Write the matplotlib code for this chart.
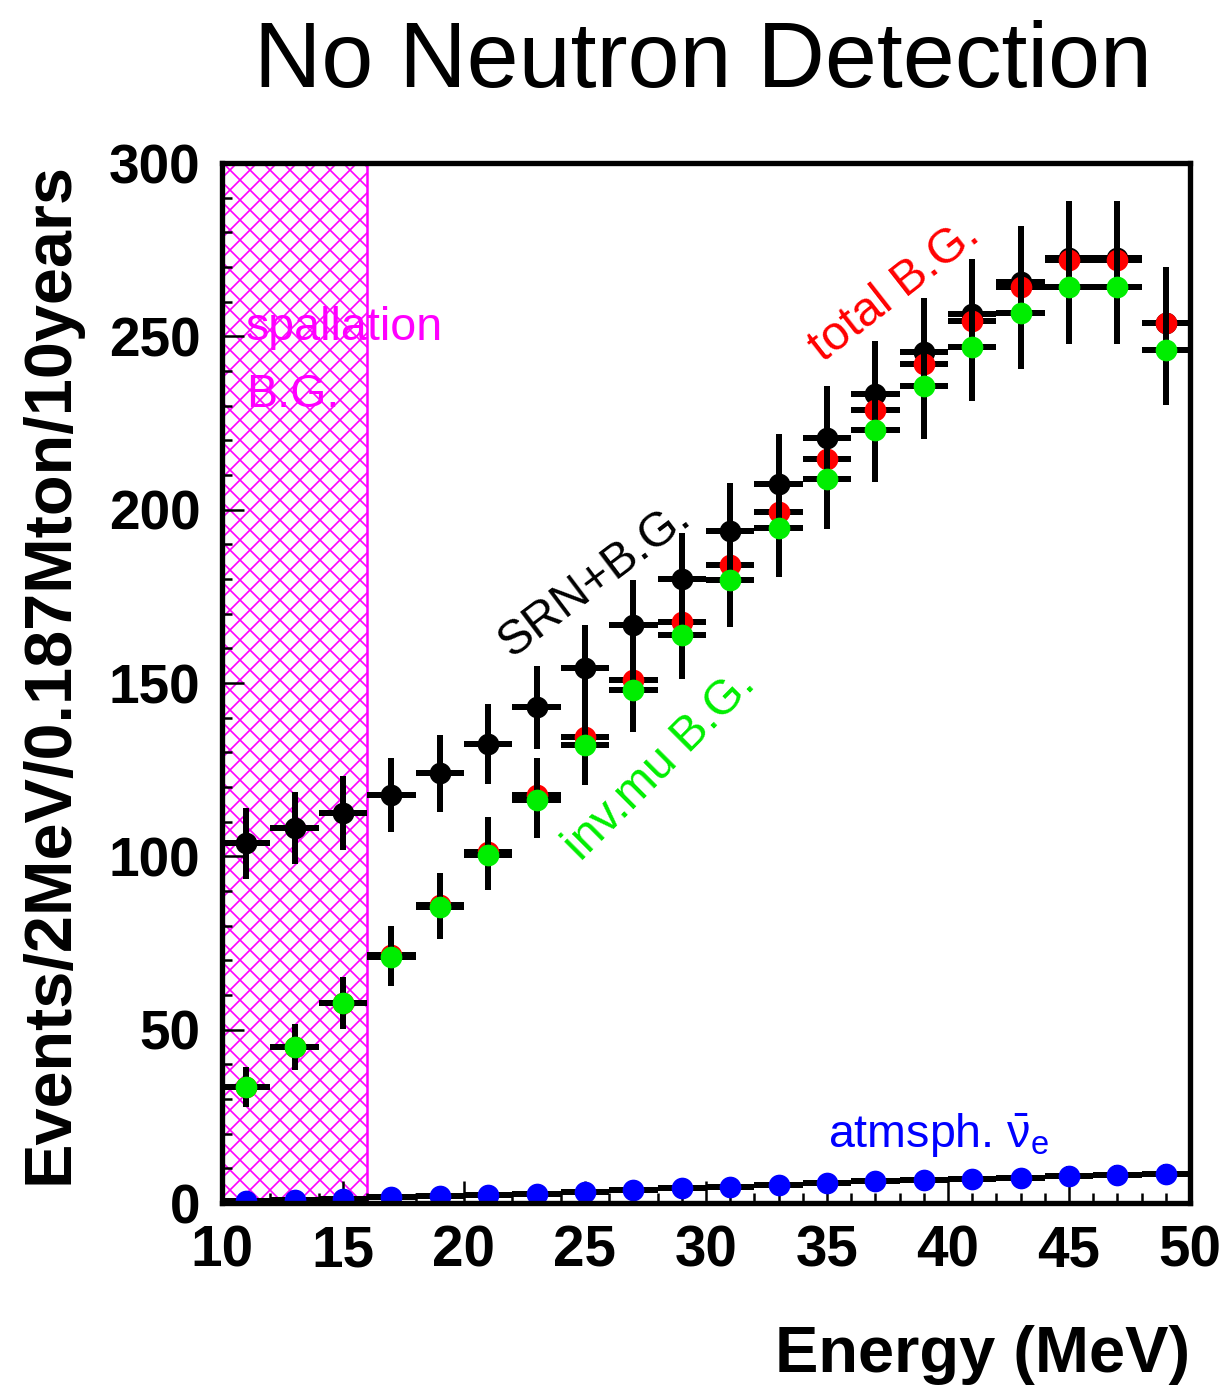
import matplotlib
matplotlib.use("Agg")
import matplotlib.pyplot as plt
from matplotlib.ticker import MultipleLocator
import numpy as np

plt.rcParams['font.family'] = ['Liberation Sans', 'DejaVu Sans']
plt.rcParams['mathtext.fontset'] = 'custom'
plt.rcParams['mathtext.rm'] = 'Liberation Sans'
plt.rcParams['mathtext.it'] = 'Liberation Sans'
plt.rcParams['hatch.linewidth'] = 1.0

# ---- data ----
energy = [11, 13, 15, 17, 19, 21, 23, 25, 27, 29, 31, 33, 35, 37, 39, 41, 43, 45, 47, 49]
srn_bg = [103.8, 108.2, 112.5, 117.7, 124.0, 132.4, 143.0, 154.3, 166.7, 180.0,
          193.8, 207.4, 220.7, 233.3, 245.5, 256.4, 265.6, 272.6, 272.6, 254.0]
srn_bg_err = [10.2, 10.4, 10.6, 10.8, 11.1, 11.5, 12.0, 12.4, 12.9, 13.4,
              13.9, 14.4, 14.9, 15.3, 15.7, 16.0, 16.3, 16.5, 16.5, 15.9]
total_bg = [33.5, 45.0, 57.7, 71.5, 86.0, 101.2, 117.7, 134.4, 150.8, 167.6,
            184.0, 199.3, 214.6, 228.7, 242.0, 254.4, 264.2, 272.0, 272.0, 253.8]
total_bg_err = [5.8, 6.7, 7.6, 8.5, 9.3, 10.1, 10.8, 11.6, 12.3, 12.9,
                13.6, 14.1, 14.6, 15.1, 15.6, 15.9, 16.3, 16.5, 16.5, 15.9]
invmu_bg = [33.5, 45.0, 57.7, 71.0, 85.4, 100.4, 116.2, 132.0, 148.0, 164.0,
            179.7, 194.7, 209.0, 223.0, 235.6, 247.0, 256.7, 264.2, 264.2, 246.0]
invmu_bg_err = [5.8, 6.7, 7.6, 8.4, 9.2, 10.0, 10.8, 11.5, 12.2, 12.8,
                13.4, 14.0, 14.5, 14.9, 15.3, 15.7, 16.0, 16.3, 16.3, 15.7]
atm_nue = [0.5, 0.9, 1.2, 1.7, 2.0, 2.3, 2.6, 3.2, 3.7, 4.3,
           4.6, 5.2, 5.8, 6.3, 6.6, 6.9, 7.2, 7.8, 8.1, 8.4]
atm_nue_err = [0.7, 0.9, 1.1, 1.3, 1.4, 1.5, 1.6, 1.8, 1.9, 2.1,
               2.1, 2.3, 2.4, 2.5, 2.6, 2.6, 2.7, 2.8, 2.8, 2.9]
bin_half_width = [1.0] * 20
spallation_range = (10, 16)

DPI = 120
fig = plt.figure(figsize=(1229 / DPI, 1389 / DPI), dpi=DPI)
ax = fig.add_axes([0.1806, 0.1339, 0.7877, 0.7487])

# spallation hatched region
ax.axvspan(spallation_range[0], spallation_range[1], facecolor='none',
           edgecolor='#ff00ff', hatch='xx', linewidth=1.5, zorder=1)

ms = 12
elw = 3.6
ax.errorbar(energy, atm_nue, yerr=atm_nue_err, xerr=bin_half_width, fmt='o',
            color='#0000ff', ecolor='black', elinewidth=elw, markersize=ms,
            capsize=0, zorder=3)
ax.errorbar(energy, srn_bg, yerr=srn_bg_err, xerr=bin_half_width, fmt='o',
            color='black', ecolor='black', elinewidth=elw, markersize=ms,
            capsize=0, zorder=3)
ax.errorbar(energy, total_bg, yerr=total_bg_err, xerr=bin_half_width, fmt='o',
            color='#ff0000', ecolor='black', elinewidth=elw, markersize=ms,
            capsize=0, zorder=4)
ax.errorbar(energy, invmu_bg, yerr=invmu_bg_err, xerr=bin_half_width, fmt='o',
            color='#00ee00', ecolor='black', elinewidth=elw, markersize=ms,
            capsize=0, zorder=5)

ax.set_xlim(10, 50)
ax.set_ylim(0, 300)
ax.xaxis.set_major_locator(MultipleLocator(5))
ax.xaxis.set_minor_locator(MultipleLocator(1))
ax.yaxis.set_major_locator(MultipleLocator(50))
ax.yaxis.set_minor_locator(MultipleLocator(10))
ax.tick_params(which='both', direction='in', top=False, right=False, width=1.5)
ax.tick_params(which='major', length=13, pad=13)
ax.tick_params(which='minor', length=6)
for lab in ax.get_xticklabels() + ax.get_yticklabels():
    lab.set_fontsize(33)
    lab.set_fontweight('bold')
for lab in ax.get_xticklabels():
    lab.set_fontsize(34)
for sp in ax.spines.values():
    sp.set_linewidth(3.2)
    sp.set_zorder(6)

ax.set_ylabel('Events/2MeV/0.187Mton/10years', fontsize=40, fontweight='bold')
ax.yaxis.set_label_coords(-0.145, 0.51)
ax.set_xlabel('Energy (MeV)', fontsize=39, fontweight='bold')
ax.xaxis.set_label_coords(1.0, -0.117)
ax.xaxis.label.set_horizontalalignment('right')

fig.text(0.572, 0.955, 'No Neutron Detection', fontsize=56, ha='center', va='center')

ax.text(11.0, 252.5, 'spallation', color='#ff00ff', fontsize=28, ha='left', va='center', zorder=7)
ax.text(11.0, 233.0, 'B.G.', color='#ff00ff', fontsize=28, ha='left', va='center', zorder=7)
ax.text(37.8, 263.0, 'total B.G.', color='#ff0000', fontsize=29, rotation=38,
        ha='center', va='center', rotation_mode='anchor', zorder=7)
ax.text(25.4, 179.7, 'SRN+B.G.', color='black', fontsize=29, rotation=37,
        ha='center', va='center', rotation_mode='anchor', zorder=7)
ax.text(28.1, 126.3, 'inv.mu B.G.', color='#00ee00', fontsize=29, rotation=45,
        ha='center', va='center', rotation_mode='anchor', zorder=7)
ax.text(39.6, 19.5, r'atmsph. $\bar{\nu}_{\mathregular{e}}$', color='#0000ff', fontsize=28,
        ha='center', va='center', zorder=7)

fig.savefig('out.png', dpi=DPI)
